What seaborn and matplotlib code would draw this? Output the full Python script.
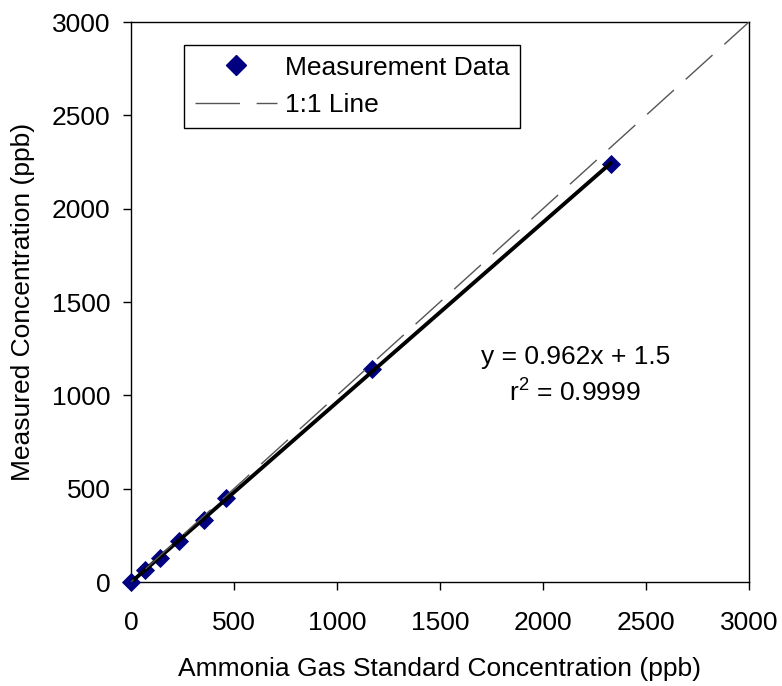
import matplotlib
matplotlib.use("Agg")
import matplotlib.pyplot as plt
import seaborn as sns
import pandas as pd
from matplotlib.lines import Line2D

# Data
standard_ppb = [0, 68, 141, 233, 354, 461, 1168, 2329]
measured_ppb = [0, 64, 128, 220, 332, 452, 1139, 2237]
one_to_one = [0, 3000]
x_ticks = [0, 500, 1000, 1500, 2000, 2500, 3000]
y_ticks = [0, 500, 1000, 1500, 2000, 2500, 3000]
eq_text = "y = 0.962x + 1.5"
r2_text = "r$^2$ = 0.9999"

df = pd.DataFrame({"std": standard_ppb, "meas": measured_ppb})
line_df = pd.DataFrame({"x": one_to_one, "y": one_to_one})

sns.set_theme(style="white")
plt.rcParams["font.family"] = ["Liberation Sans", "DejaVu Sans"]
plt.rcParams["mathtext.fontset"] = "custom"
plt.rcParams["mathtext.rm"] = "Liberation Sans"
for k in ["text.color", "axes.labelcolor", "xtick.color", "ytick.color"]:
    plt.rcParams[k] = "black"

FS = 19

fig = plt.figure(figsize=(7.82, 6.86), dpi=100)
ax = fig.add_axes([131 / 782, 1 - 582 / 686, 618 / 782, 560 / 686])

sns.scatterplot(data=df, x="std", y="meas", marker="D", s=95, color="#000080",
                edgecolor="#000080", linewidth=0, ax=ax, zorder=3, clip_on=False)
sns.regplot(data=df, x="std", y="meas", scatter=False, ci=None, ax=ax,
            line_kws=dict(color="black", lw=2.8, zorder=4))
sns.lineplot(data=line_df, x="x", y="y", color="#555555", lw=1.0, ax=ax,
             dashes=False, zorder=5)
ax.lines[-1].set_linestyle((23.5, (26, 11.5)))

ax.set_xlim(0, 3000)
ax.set_ylim(0, 3000)
ax.set_xticks(x_ticks)
ax.set_yticks(y_ticks)
ax.tick_params(axis="both", which="major", labelsize=FS, direction="out",
               length=5.8, width=1, color="black", bottom=True, left=True)
ax.tick_params(axis="x", pad=15)
ax.tick_params(axis="y", pad=9)
for s in ax.spines.values():
    s.set_color("black")
    s.set_linewidth(1.0)
    s.set_visible(True)

ax.set_xlabel("Ammonia Gas Standard Concentration (ppb)", fontsize=FS, labelpad=16)
ax.set_ylabel("Measured Concentration (ppb)", fontsize=FS, labelpad=12)

ax.text((576 - 131) / 618, (582 - 357) / 560, eq_text, fontsize=FS,
        ha="center", va="center", transform=ax.transAxes)
ax.text((575 - 131) / 618, (582 - 392) / 560, r2_text, fontsize=FS,
        ha="center", va="center", transform=ax.transAxes)

handles = [
    Line2D([], [], marker="D", color="#000080", linestyle="none", markersize=9.7),
    Line2D([], [], color="#555555", lw=1.0, dashes=(32, 12)),
]
leg = ax.legend(handles, ["Measurement Data", "1:1 Line"], loc="upper left",
                bbox_to_anchor=((184 - 131) / 618, (582 - 45) / 560),
                fontsize=FS, frameon=True, fancybox=False, handlelength=3.14,
                handletextpad=0.27, borderpad=0.4, labelspacing=0.52,
                borderaxespad=0, numpoints=1)
leg.get_frame().set_edgecolor("black")
leg.get_frame().set_linewidth(1.0)
leg.get_frame().set_alpha(1)

fig.savefig("out.png", dpi=100)
